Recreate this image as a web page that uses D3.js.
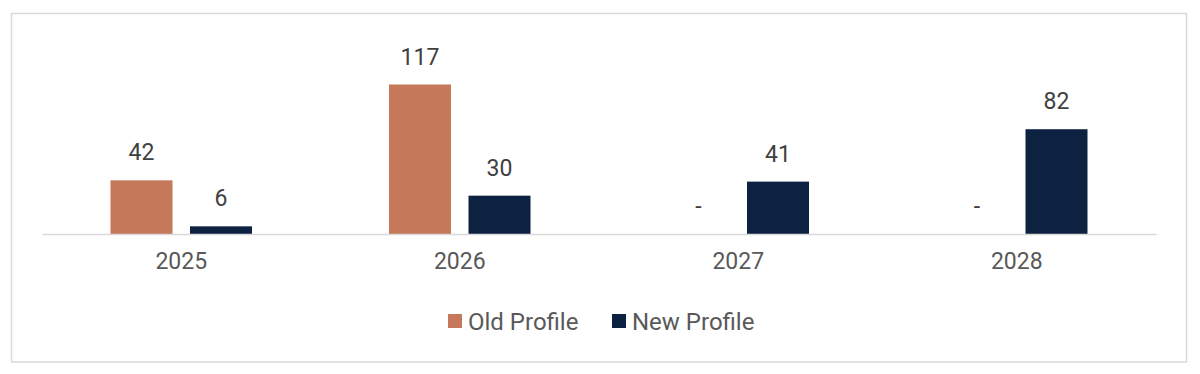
<!DOCTYPE html>
<html>
<head>
<meta charset="utf-8">
<script src="https://cdn.jsdelivr.net/npm/d3@7"></script>
<style>
  html, body { margin: 0; padding: 0; background: #ffffff; }
  svg { display: block; font-family: Roboto, "Noto Sans", Arial, sans-serif; }
</style>
</head>
<body>
<svg id="chart" width="1200" height="374"></svg>
<script>
const categories = ["2025", "2026", "2027", "2028"];
const seriesNames = ["Old Profile", "New Profile"];
const oldProfile = [42, 117, 0, 0];
const newProfile = [6, 30, 41, 82];
const seriesColors = ["#c5795a", "#0d2240"];

const svg = d3.select("#chart");

// frame
svg.append("rect")
  .attr("x", 11.5).attr("y", 13.5)
  .attr("width", 1175).attr("height", 348.5)
  .attr("fill", "#fff").attr("stroke", "#d9d9d9").attr("stroke-width", 1.5);

const plot = { left: 42, right: 1156, baseline: 234 };

const x0 = d3.scaleBand().domain(categories).range([plot.left, plot.right]).paddingInner(0).paddingOuter(0);
const groupPad = 68.5;
const x1 = d3.scaleBand().domain(seriesNames)
  .range([groupPad, x0.bandwidth() - groupPad]).paddingInner(0.22).paddingOuter(0);
const y = d3.scaleLinear().domain([0, 117]).range([plot.baseline, 84.5]);

const data = categories.map((c, i) => ({
  cat: c,
  values: [
    { name: seriesNames[0], v: oldProfile[i], color: seriesColors[0] },
    { name: seriesNames[1], v: newProfile[i], color: seriesColors[1] }
  ]
}));

const groups = svg.append("g").selectAll("g").data(data).join("g")
  .attr("transform", d => `translate(${x0(d.cat)},0)`);

groups.selectAll("rect").data(d => d.values.filter(v => v.v > 0)).join("rect")
  .attr("x", d => x1(d.name))
  .attr("y", d => y(d.v))
  .attr("width", x1.bandwidth())
  .attr("height", d => y(0) - y(d.v))
  .attr("fill", d => d.color);

groups.selectAll("text.val").data(d => d.values).join("text")
  .attr("class", "val")
  .attr("x", d => x1(d.name) + x1.bandwidth() / 2)
  .attr("y", d => y(d.v) - 20)
  .attr("text-anchor", "middle")
  .attr("font-size", 23)
  .attr("fill", "#404040")
  .text(d => d.v === 0 ? "-" : d.v);

// axis
const xAxis = d3.axisBottom(x0).tickSize(0).tickPadding(19);
const axisG = svg.append("g").attr("transform", `translate(0,${plot.baseline})`).call(xAxis);
axisG.select(".domain").attr("stroke", "#d9d9d9").attr("stroke-width", 1.5);
axisG.selectAll("text").attr("font-size", 23).attr("fill", "#595959")
  .attr("font-family", "Roboto, 'Noto Sans', Arial, sans-serif");

// legend
const legend = svg.append("g");
const legendItems = [
  { name: seriesNames[0], color: seriesColors[0], x: 448 },
  { name: seriesNames[1], color: seriesColors[1], x: 612 }
];
const li = legend.selectAll("g").data(legendItems).join("g")
  .attr("transform", d => `translate(${d.x},314)`);
li.append("rect").attr("width", 14).attr("height", 14).attr("fill", d => d.color);
li.append("text").attr("x", 20).attr("y", 15.5).attr("font-size", 24)
  .attr("fill", "#595959").text(d => d.name);
</script>
</body>
</html>
